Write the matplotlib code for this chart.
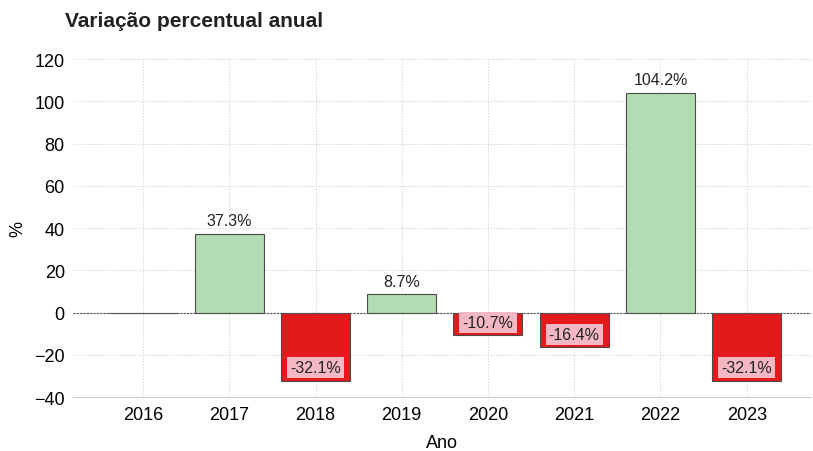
import matplotlib.pyplot as plt

plt.rcParams['font.family'] = ['Liberation Sans', 'DejaVu Sans']

anos = ['2016', '2017', '2018', '2019', '2020', '2021', '2022', '2023']
variacao = [0.0, 37.3, -32.1, 8.7, -10.7, -16.4, 104.2, -32.1]

fig = plt.figure(figsize=(8.13, 4.52), dpi=100)
ax = fig.add_axes([0.09, 0.119, 0.908, 0.748])

cores = ['#e31a1c' if v < 0 else '#b2dcb2' for v in variacao]
x = range(len(anos))
ax.bar(x, variacao, width=0.8, color=cores, edgecolor='#4a4a4a',
       linewidth=0.8, zorder=3)

for xi, v in zip(x, variacao):
    if v > 0:
        ax.annotate(f'{v:.1f}%', (xi, v), xytext=(0, 4), textcoords='offset points',
                    ha='center', va='bottom', fontsize=11.5, color='#222222', zorder=4)
    elif v < 0:
        ax.annotate(f'{v:.1f}%', (xi, v), xytext=(0, 4), textcoords='offset points',
                    ha='center', va='bottom', fontsize=11.5, color='#222222', zorder=4,
                    bbox=dict(boxstyle='square,pad=0.2', fc='#f4b8c4', ec='none'))

ax.axhline(0, color='#555555', linestyle=(0, (2, 1)), linewidth=0.8, zorder=3)

ax.set_xticks(list(x))
ax.set_xticklabels(anos, fontsize=13)
ax.set_xlim(-0.81, 7.75)
ax.set_ylim(-40, 120)
ax.set_yticks(range(-40, 121, 20))
ax.set_yticklabels([f'{t}' if t >= 0 else f'\u2212{-t}' for t in range(-40, 121, 20)],
                   fontsize=13)
ax.tick_params(length=0, pad=6)
ax.grid(True, color='#d6d6d6', linestyle=(0, (1.5, 1.5)), linewidth=0.7, zorder=0)
for s in ['top', 'right', 'left']:
    ax.spines[s].set_visible(False)
ax.spines['bottom'].set_color('#cccccc')

ax.set_xlabel('Ano', fontsize=13, labelpad=8.5)
ax.set_ylabel('%', fontsize=13, labelpad=6)
fig.text(0.08, 0.952, 'Variação percentual anual', fontsize=15, fontweight='bold',
         ha='left', va='center', color='#222222')

fig.savefig('out.png', dpi=100)
